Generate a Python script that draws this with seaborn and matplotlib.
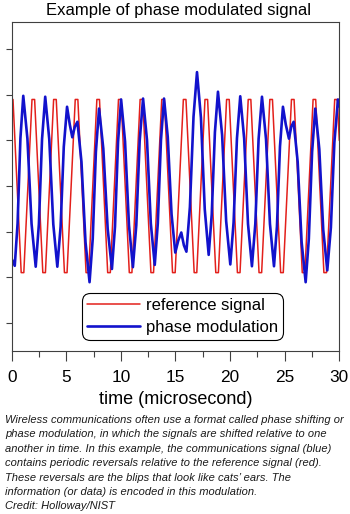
import matplotlib

matplotlib.use("Agg")

import matplotlib.pyplot as plt
import seaborn as sns


# reference signal: corner points of each flat top / flat bottom (microsecond, signal)
red_t = [0.00, 0.12, 0.87, 1.11, 1.86, 2.10, 2.85, 3.09, 3.84, 4.08, 4.83, 5.07,
         5.82, 6.06, 6.81, 7.05, 7.80, 8.04, 8.79, 9.03, 9.78, 10.02, 10.77, 11.01,
         11.76, 12.00, 12.75, 12.99, 13.74, 13.98, 14.73, 14.97, 15.72, 15.96,
         16.71, 16.95, 17.70, 17.94, 18.69, 18.93, 19.68, 19.92, 20.67, 20.91,
         21.66, 21.90, 22.65, 22.89, 23.64, 23.88, 24.63, 24.87, 25.62, 25.86,
         26.61, 26.85, 27.60, 27.84, 28.59, 28.83, 29.58, 29.82, 30.00]
red_v = [1.90, 1.90, -1.90, -1.90, 1.90, 1.90, -1.90, -1.90, 1.90, 1.90, -1.90, -1.90,
         1.90, 1.90, -1.90, -1.90, 1.90, 1.90, -1.90, -1.90, 1.90, 1.90, -1.90, -1.90,
         1.90, 1.90, -1.90, -1.90, 1.90, 1.90, -1.90, -1.90, 1.90, 1.90,
         -1.90, -1.90, 1.90, 1.90, -1.90, -1.90, 1.90, 1.90, -1.90, -1.90,
         1.90, 1.90, -1.90, -1.90, 1.90, 1.90, -1.90, -1.90, 1.90, 1.90,
         -1.90, -1.90, 1.90, 1.90, -1.90, -1.90, 1.90, 1.90, 1.00]

# phase modulated signal
blue_t = [0.00, 0.28, 0.54, 0.80, 1.06, 1.44, 1.82, 2.20, 2.49, 2.78, 3.07, 3.44,
          3.81, 4.18, 4.48, 4.77, 5.07, 5.32, 5.55, 5.78, 6.02, 6.39, 6.76, 7.13,
          7.42, 7.71, 8.00, 8.39, 8.79, 9.18, 9.46, 9.74, 10.02, 10.38, 10.74, 11.10,
          11.41, 11.72, 12.03, 12.39, 12.74, 13.10, 13.38, 13.67, 13.95, 14.29, 14.64,
          14.98, 15.25, 15.53, 15.77, 16.00, 16.32, 16.65, 16.97, 17.33, 17.68, 18.04,
          18.32, 18.61, 18.89, 19.27, 19.64, 20.02, 20.32, 20.63, 20.93, 21.29, 21.64,
          22.00, 22.31, 22.61, 22.92, 23.29, 23.65, 24.02, 24.29, 24.57, 24.84, 25.10,
          25.39, 25.60, 25.82, 26.19, 26.55, 26.92, 27.21, 27.51, 27.80, 28.17, 28.53,
          28.90, 29.23, 29.55, 29.88, 30.00]
blue_v = [-1.60, -1.75, -0.82, 1.05, 1.98, 1.04, -0.83, -1.77, -0.84, 1.03, 1.96, 1.03,
          -0.84, -1.77, -0.89, 0.86, 1.74, 1.35, 1.07, 1.30, 1.41, 0.53, -1.23, -2.11,
          -1.16, 0.75, 1.70, 0.82, -0.94, -1.82, -0.89, 0.97, 1.90, 0.98, -0.86, -1.78,
          -0.86, 0.99, 1.92, 1.01, -0.82, -1.73, -0.82, 1.01, 1.92, 1.08, -0.62,
          -1.46, -1.20, -1.02, -1.30, -1.44, -0.46, 1.52, 2.50, 1.50, -0.51, -1.51,
          -0.62, 1.18, 2.07, 1.12, -0.77, -1.72, -0.80, 1.05, 1.97, 1.04, -0.83,
          -1.76, -0.83, 1.03, 1.96, 1.03, -0.83, -1.76, -0.89, 0.87, 1.74, 1.35,
          1.04, 1.30, 1.41, 0.53, -1.23, -2.11, -1.16, 0.75, 1.70, 0.81, -0.96,
          -1.85, -0.91, 0.96, 1.90, 1.75]

x_ticks = [0, 5, 10, 15, 20, 25, 30]
x_minor = [2.5, 7.5, 12.5, 17.5, 22.5, 27.5]
y_ticks = [-3, -2, -1, 0, 1, 2, 3]

caption = (
    "Wireless communications often use a format called phase shifting or\n"
    "phase modulation, in which the signals are shifted relative to one\n"
    "another in time. In this example, the communications signal (blue)\n"
    "contains periodic reversals relative to the reference signal (red).\n"
    "These reversals are the blips that look like cats\u2019 ears. The\n"
    "information (or data) is encoded in this modulation.\n"
    "Credit: Holloway/NIST"
)

sns.set_style("ticks")
plt.rcParams["font.family"] = ["Liberation Sans", "DejaVu Sans"]
plt.rcParams["text.color"] = "black"
plt.rcParams["axes.labelcolor"] = "black"
plt.rcParams["xtick.labelcolor"] = "black"

fig = plt.figure(figsize=(3.5, 5.14), dpi=100)
ax = fig.add_axes([0.0334, 0.3171, 0.936, 0.6401])

sns.lineplot(x=red_t, y=red_v, sort=False, estimator=None, color="#e3201b",
             linewidth=1.1, label="reference signal", ax=ax)
sns.lineplot(x=blue_t, y=blue_v, sort=False, estimator=None, color="#1212cc",
             linewidth=1.9, label="phase modulation", ax=ax)

ax.set_xlim(0, 30)
ax.set_ylim(-3.62, 3.60)
ax.set_xticks(x_ticks)
ax.set_xticks(x_minor, minor=True)
ax.set_yticks(y_ticks)
ax.set_yticklabels([])
ax.tick_params(axis="x", which="major", length=7.2, width=0.8, pad=6.5,
               labelsize=12.4, color="#404040", labelcolor="black")
ax.tick_params(axis="x", which="minor", length=4, width=0.8, color="#404040")
ax.tick_params(axis="y", which="major", length=4.3, width=0.8, color="#404040")
for side in ["left", "right", "top", "bottom"]:
    ax.spines[side].set_visible(True)
    ax.spines[side].set_color("#404040")
    ax.spines[side].set_linewidth(0.8)

ax.set_xlabel("time (microsecond)", fontsize=13, color="black")
ax.xaxis.label.set_va("baseline")
ax.xaxis.set_label_coords(0.5, -0.161)
ax.set_ylabel("")

leg = ax.legend(loc="lower center", bbox_to_anchor=(0.522, 0.0325), fontsize=12,
                frameon=True, fancybox=True, handlelength=3.2, handletextpad=0.34,
                borderpad=0.3, labelspacing=0.45, borderaxespad=0)
leg.get_frame().set_edgecolor("black")
leg.get_frame().set_linewidth(0.8)
leg.get_frame().set_alpha(1)
leg.get_frame().set_boxstyle("round", pad=0, rounding_size=0.5)
for txt in leg.get_texts():
    txt.set_color("black")

fig.text(0.5086, 1 - 15 / 514, "Example of phase modulated signal", fontsize=12,
         ha="center", va="baseline", color="black")
fig.text(5 / 350, 1 - 415 / 514, caption, fontsize=8.0, style="italic",
         ha="left", va="top", linespacing=1.55, color="#1a1a1a")

fig.savefig("out.png", dpi=100)
plt.close(fig)
